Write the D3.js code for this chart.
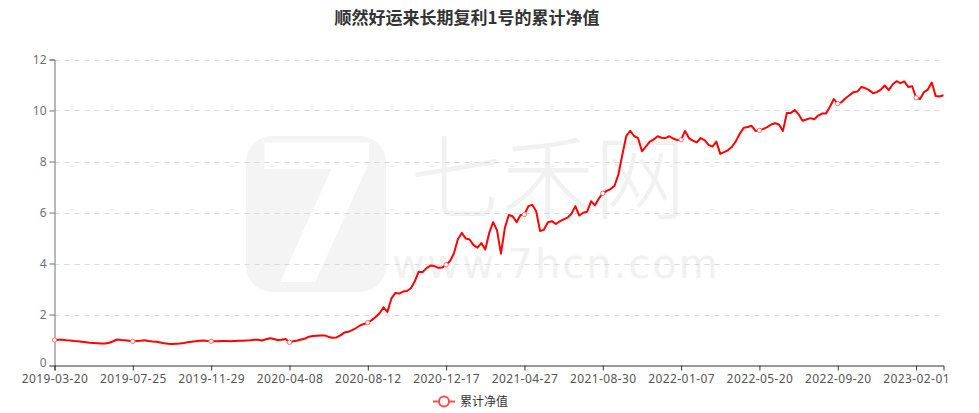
<!DOCTYPE html>
<html>
<head>
<meta charset="utf-8">
<script src="https://cdn.jsdelivr.net/npm/d3@7"></script>
<style>
  html, body { margin: 0; padding: 0; background: #fff; }
  svg { display: block; }
</style>
</head>
<body>
<svg id="chart" width="979" height="413"></svg>
<script>
// ---------- data ----------
const chartTitle = "顺然好运来长期复利1号的累计净值";
const seriesName = "累计净值";
// x-axis category labels (one every 20 samples)
const tickLabels = ["2019-03-20","2019-07-25","2019-11-29","2020-04-08","2020-08-12","2020-12-17",
                    "2021-04-27","2021-08-30","2022-01-07","2022-05-20","2022-09-20","2023-02-01"];
const samplesPerTick = 20;
const yTicks = [0, 2, 4, 6, 8, 10, 12];
// cumulative NAV, sampled at equal intervals of trading days
const navValues = [
  1.00,1.01,1.01,0.99,0.98,0.96,0.95,0.93,0.91,0.89,0.88,0.87,0.86,0.86,0.89,0.95,1.02,1.00,0.99,0.97,
  0.95,0.96,0.97,0.99,0.96,0.94,0.93,0.90,0.87,0.85,0.84,0.85,0.86,0.88,0.91,0.93,0.95,0.97,0.98,0.96,
  0.95,0.95,0.95,0.96,0.96,0.95,0.96,0.97,0.97,0.98,0.99,1.01,1.01,0.98,1.03,1.07,1.04,1.00,1.01,1.04,
  0.91,0.95,0.98,1.02,1.06,1.13,1.16,1.17,1.18,1.18,1.12,1.09,1.10,1.18,1.29,1.32,1.39,1.47,1.57,1.63,
  1.68,1.78,1.90,2.05,2.28,2.10,2.62,2.84,2.82,2.90,2.92,3.03,3.30,3.68,3.66,3.82,3.92,3.90,3.83,3.84,
  3.95,4.10,4.40,4.95,5.20,4.98,4.94,4.72,4.62,4.80,4.55,5.20,5.62,5.30,4.39,5.40,5.90,5.85,5.62,5.90,
  5.92,6.25,6.30,6.05,5.27,5.33,5.62,5.66,5.55,5.65,5.73,5.80,5.95,6.25,5.88,5.99,6.03,6.44,6.28,6.55,
  6.75,6.85,6.92,7.05,7.50,8.27,9.00,9.20,9.00,8.92,8.40,8.58,8.78,8.86,8.99,8.93,8.92,8.99,8.90,8.84,
  8.85,9.20,8.92,8.82,8.75,8.92,8.84,8.65,8.58,8.78,8.30,8.37,8.45,8.58,8.80,9.10,9.32,9.35,9.40,9.20,
  9.22,9.28,9.35,9.45,9.50,9.45,9.20,9.90,9.90,10.02,9.85,9.60,9.65,9.70,9.66,9.80,9.88,9.88,10.15,10.45,
  10.27,10.33,10.48,10.60,10.72,10.74,10.92,10.88,10.80,10.68,10.72,10.82,10.98,10.80,11.02,11.15,11.07,11.14,10.92,10.95,
  10.50,10.45,10.72,10.82,11.10,10.57,10.55,10.60
];

// ---------- layout ----------
const plotLeft = 54.5, plotRight = 943.5, plotTop = 59.5, plotBottom = 365.5;
const lineColor = "#ff0000";

const svg = d3.select("#chart");

const x = d3.scaleLinear().domain([0, navValues.length - 1]).range([plotLeft, plotRight]);
const y = d3.scaleLinear().domain([0, 12]).range([plotBottom, plotTop]);

// ---------- watermark ----------
const wm = svg.append("g").attr("class", "watermark");
wm.append("rect").attr("x", 246).attr("y", 136).attr("width", 140).attr("height", 156)
  .attr("rx", 26).attr("fill", "#f4f4f4");
wm.append("text").attr("x", 318).attr("y", 282).attr("text-anchor", "middle")
  .attr("font-family", "DejaVu Sans, sans-serif").attr("font-size", 190).attr("font-weight", "bold")
  .attr("fill", "#ffffff").text("7");
wm.append("text").attr("x", 548).attr("y", 212).attr("text-anchor", "middle")
  .attr("font-family", "Noto Sans CJK SC, sans-serif").attr("font-size", 92).attr("font-weight", 300)
  .attr("fill", "#f1f1f1").text("七禾网");
wm.append("text").attr("x", 556).attr("y", 278).attr("text-anchor", "middle")
  .attr("font-family", "DejaVu Sans, sans-serif").attr("font-size", 40)
  .attr("fill", "#f1f1f1").attr("letter-spacing", 2).text("www.7hcn.com");

// ---------- grid ----------
svg.append("g").selectAll("line").data(yTicks.filter(d => d > 0)).join("line")
  .attr("x1", plotLeft).attr("x2", plotRight)
  .attr("y1", d => Math.round(y(d)) + 0.5).attr("y2", d => Math.round(y(d)) + 0.5)
  .attr("stroke", "#d9d9d9").attr("stroke-width", 1).attr("stroke-dasharray", "5,5");

// ---------- title ----------
svg.append("text").attr("x", 467).attr("y", 24).attr("text-anchor", "middle")
  .attr("font-family", "Noto Sans CJK SC, sans-serif").attr("font-size", 17).attr("font-weight", "bold")
  .attr("fill", "#333").text(chartTitle);

// ---------- axes ----------
const yAxis = svg.append("g").attr("transform", `translate(${plotLeft},0)`)
  .call(d3.axisLeft(y).tickValues(yTicks).tickSize(5).tickPadding(3));
yAxis.select(".domain").attr("stroke", "#6e7079");
yAxis.selectAll(".tick line").attr("stroke", "#6e7079");
yAxis.selectAll(".tick text").attr("fill", "#6e7079")
  .attr("font-family", "Noto Sans, sans-serif").attr("font-size", 12)
  .attr("dy", d => d === 0 ? "0.1em" : "0.32em");

const tickIdx = tickLabels.map((_, i) => i * samplesPerTick);
const xAxis = svg.append("g").attr("transform", `translate(0,${plotBottom})`)
  .call(d3.axisBottom(x).tickValues(tickIdx).tickSize(5).tickPadding(4)
    .tickFormat((d, i) => tickLabels[i]));
xAxis.select(".domain").attr("stroke", "#333");
xAxis.selectAll(".tick line").attr("stroke", "#333");
xAxis.selectAll(".tick text").attr("fill", "#555")
  .attr("font-family", "Noto Sans, sans-serif").attr("font-size", 12).attr("letter-spacing", 0.4);

// ---------- line ----------
const line = d3.line().x((d, i) => x(i)).y(d => y(d));
svg.append("path").datum(navValues).attr("d", line)
  .attr("fill", "none").attr("stroke", lineColor).attr("stroke-width", 2)
  .attr("stroke-linejoin", "round");

svg.append("g").selectAll("circle").data(tickIdx).join("circle")
  .attr("cx", d => x(d)).attr("cy", d => y(navValues[d])).attr("r", 2.2)
  .attr("fill", "#fff").attr("stroke", "#ff6b6b").attr("stroke-width", 1);

// ---------- legend ----------
const lg = svg.append("g");
lg.append("line").attr("x1", 433).attr("x2", 455).attr("y1", 401.5).attr("y2", 401.5)
  .attr("stroke", "#ff4d4d").attr("stroke-width", 2);
lg.append("circle").attr("cx", 444).attr("cy", 401.5).attr("r", 5)
  .attr("fill", "#fff").attr("stroke", "#ff4d4d").attr("stroke-width", 2);
lg.append("text").attr("x", 460).attr("y", 406).attr("font-family", "Noto Sans CJK SC, sans-serif")
  .attr("font-size", 12).attr("fill", "#333").text(seriesName);
</script>
</body>
</html>
